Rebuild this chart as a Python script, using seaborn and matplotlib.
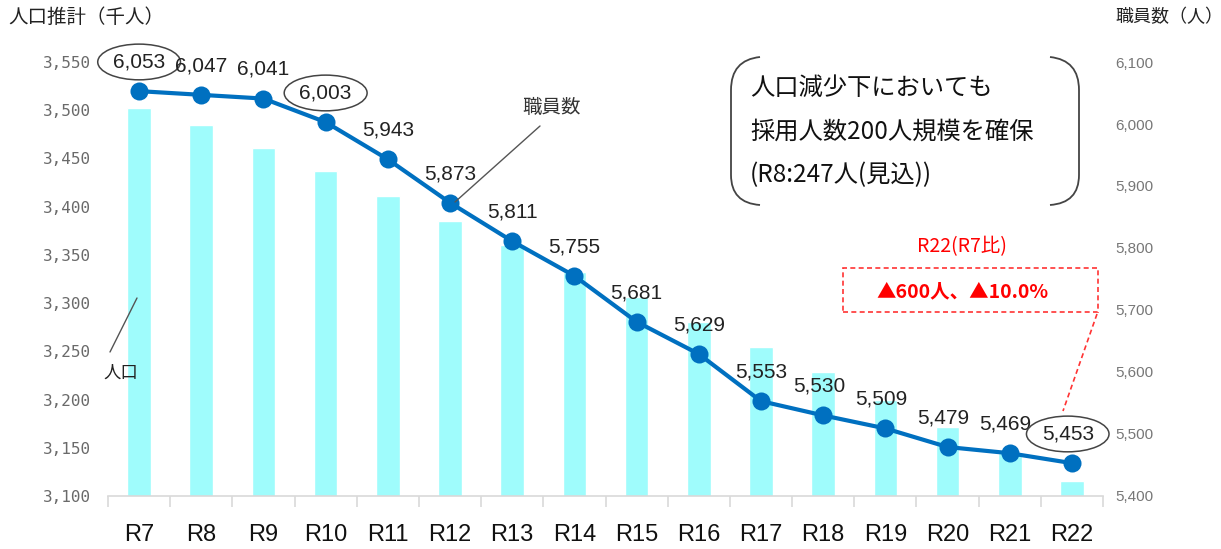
import matplotlib.pyplot as plt
import numpy as np
import pandas as pd
import seaborn as sns
from matplotlib.path import Path
from matplotlib.patches import PathPatch, Rectangle
from matplotlib.ticker import FuncFormatter

years = ['R7', 'R8', 'R9', 'R10', 'R11', 'R12', 'R13', 'R14',
         'R15', 'R16', 'R17', 'R18', 'R19', 'R20', 'R21', 'R22']
population = [3502, 3485, 3461, 3437, 3411, 3385, 3360, 3332,
              3306, 3280, 3255, 3229, 3200, 3172, 3145, 3116]
staff = [6053, 6047, 6041, 6003, 5943, 5873, 5811, 5755,
         5681, 5629, 5553, 5530, 5509, 5479, 5469, 5453]
circled = ['R7', 'R10', 'R22']

W, H = 1221, 549
JP = ['Noto Sans CJK JP', 'DejaVu Sans']
NUM = ['Liberation Sans', 'DejaVu Sans']

sns.set_theme(style='white')
plt.rcParams['font.family'] = JP


def px(x, y):
    return (x / W, 1 - y / H)


df = pd.DataFrame({'year': years, 'population': population, 'staff': staff})

fig = plt.figure(figsize=(W / 100, H / 100), dpi=100)
l, b = px(108, 496)
r, t = px(1103, 62)
ax = fig.add_axes([l, b, r - l, t - b])

sns.barplot(data=df, x='year', y='population', color='#9ffcfc', saturation=1,
            width=0.38, ax=ax)
ax.set_ylim(3100, 3550)
ax.set_yticks(np.arange(3100, 3551, 50))
ax.yaxis.set_major_formatter(FuncFormatter(lambda v, p: f'{int(v):,}'))
ax.set_xlabel('')
ax.set_ylabel('')
ax.set_xlim(-0.5, len(years) - 0.5)
for s in ['top', 'right', 'left']:
    ax.spines[s].set_visible(False)
ax.spines['bottom'].set_color('#d9d9d9')
ax.spines['bottom'].set_linewidth(1.2)
ax.tick_params(axis='y', length=0, pad=12, labelsize=11.5, labelcolor='#6a6a6a')
ax.tick_params(axis='x', which='major', length=0, pad=20)
ax.set_xticks(np.arange(-0.5, len(years), 1), minor=True)
ax.tick_params(axis='x', which='minor', length=8, color='#d9d9d9', width=1.2, bottom=True)
for lab in ax.get_yticklabels():
    lab.set_family(['DejaVu Sans Mono'])
for lab in ax.get_xticklabels():
    lab.set_family(['Liberation Sans Narrow', 'Liberation Sans'])
    lab.set_fontsize(17)
    lab.set_color('#111111')

ax2 = ax.twinx()
pos = np.arange(len(years))
sns.lineplot(x=pos, y=staff, ax=ax2, color='#0070c0', linewidth=3,
             marker='o', markersize=13, markeredgewidth=0)
ax2.set_ylim(5400, 6100)
ax2.set_yticks(np.arange(5400, 6101, 100))
ax2.yaxis.set_major_formatter(FuncFormatter(lambda v, p: f'{int(v):,}'))
ax2.tick_params(axis='y', length=0, pad=9, labelsize=11, labelcolor='#777777')
for lab in ax2.get_yticklabels():
    lab.set_family(NUM)
for s in ax2.spines.values():
    s.set_visible(False)

for i, (yr, v) in enumerate(zip(years, staff)):
    dx = 0 if i < 11 else -3
    kw = {}
    if yr in circled:
        kw['bbox'] = dict(boxstyle='ellipse,pad=0.15', fc='white', ec='#444444', lw=1.1)
    ax2.annotate(f'{v:,}', (i, v), xytext=(dx, 21), textcoords='offset points',
                 ha='center', va='center', fontsize=15, color='#222222',
                 family=NUM, **kw)

# axis titles
fig.text(*px(8, 17), '人口推計（千人）', fontsize=14, color='#222222', va='center', ha='left')
fig.text(*px(1115, 17), '職員数（人）', fontsize=13, color='#222222', va='center', ha='left')

# series callouts
fig.text(*px(552, 107), '職員数', fontsize=14, color='#333333', ha='center', va='center')
fig.add_artist(plt.Line2D(*zip(px(540, 126), px(455, 202)), transform=fig.transFigure,
                          color='#555555', lw=1))
fig.text(*px(121, 373), '人口', fontsize=12.5, color='#222222', ha='center', va='center')
fig.add_artist(plt.Line2D(*zip(px(110, 352), px(137, 298)), transform=fig.transFigure,
                          color='#555555', lw=1))


# bracketed message
def bracket(x0, x1):
    pts = [px(x0, 57), px(x1, 60), px(x1, 90), px(x1, 175), px(x1, 203), px(x0, 205)]
    codes = [Path.MOVETO, Path.CURVE3, Path.CURVE3, Path.LINETO, Path.CURVE3, Path.CURVE3]
    fig.add_artist(PathPatch(Path(pts, codes), transform=fig.transFigure,
                             fc='none', ec='#444444', lw=1.3))


bracket(760, 731)
bracket(1050, 1079)
for k, line in enumerate(['人口減少下においても', '採用人数200人規模を確保', '(R8:247人(見込))']):
    fig.text(*px(750, 88 + 43.5 * k), line, fontsize=17.5, color='#111111',
             ha='left', va='center')

# red note
fig.text(*px(962, 247), 'R22(R7比)', fontsize=14, color='#ff0000', ha='center', va='center')
fig.text(*px(962, 292), '▲600人、▲10.0%', fontsize=14, color='#ff0000',
         ha='center', va='center', fontweight='bold')
x0, y0 = px(843, 312)
x1, y1 = px(1098, 268)
fig.add_artist(Rectangle((x0, y0), x1 - x0, y1 - y0, transform=fig.transFigure,
                         fc='none', ec='#ff3333', lw=1.2, ls=(0, (3, 2))))
fig.add_artist(plt.Line2D(*zip(px(1097, 314), px(1063, 411)), transform=fig.transFigure,
                          color='#ff3333', lw=1.2, ls=(0, (3, 2))))

fig.savefig('out.png', dpi=100)
